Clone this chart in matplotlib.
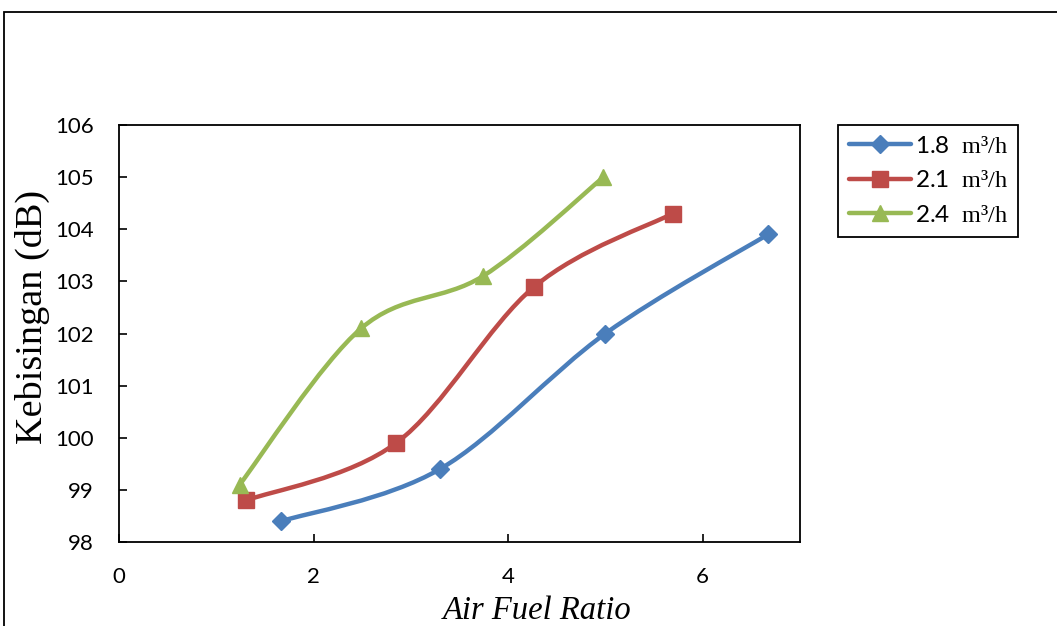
import numpy as np
import matplotlib.pyplot as plt
from matplotlib.path import Path
from matplotlib.patches import PathPatch, Rectangle
from matplotlib.lines import Line2D

plt.rcParams['mathtext.fontset'] = 'custom'
plt.rcParams['mathtext.rm'] = 'Liberation Serif'

# data
afr_18 = [1.67, 3.30, 5.00, 6.67]
noise_18 = [98.4, 99.4, 102.0, 103.9]
afr_21 = [1.31, 2.85, 4.27, 5.69]
noise_21 = [98.8, 99.9, 102.9, 104.3]
afr_24 = [1.24, 2.49, 3.74, 4.98]
noise_24 = [99.1, 102.1, 103.1, 105.0]
labels = [r"1.8  $\mathrm{m³/h}$", r"2.1  $\mathrm{m³/h}$", r"2.4  $\mathrm{m³/h}$"]
colors = ['#4a7ebb', '#be4b48', '#98b954']
markers = ['D', 's', '^']
msizes = [9, 11, 12]


def smooth_path(x, y):
    # excel style smoothed line: catmull-rom converted to cubic bezier
    p = np.column_stack([x, y]).astype(float)
    ext = np.vstack([p[0], p, p[-1]])
    verts = [p[0]]
    codes = [Path.MOVETO]
    for i in range(len(p) - 1):
        p0, p1, p2, p3 = ext[i], ext[i + 1], ext[i + 2], ext[i + 3]
        c1 = p1 + (p2 - p0) / 6.0
        c2 = p2 - (p3 - p1) / 6.0
        verts += [c1, c2, p2]
        codes += [Path.CURVE4] * 3
    return Path(verts, codes)


fig = plt.figure(figsize=(10.57, 6.26), dpi=100)
ax = fig.add_axes([119/1057, 84/626, 681/1057, 417/626])

# outer chart border
fig.patches.append(Rectangle((4/1057, -0.1), 1.2, 1 - 12/626 + 0.1,
                             transform=fig.transFigure, fill=False,
                             edgecolor='black', linewidth=1.3))

series = [(afr_18, noise_18), (afr_21, noise_21), (afr_24, noise_24)]
handles = []
for (x, y), c, m, ms, lab in zip(series, colors, markers, msizes, labels):
    ax.add_patch(PathPatch(smooth_path(x, y), fill=False, edgecolor=c,
                           linewidth=3.2, capstyle='round', zorder=2))
    ax.plot(x, y, linestyle='none', marker=m, markersize=ms, color=c, zorder=3)
    handles.append(Line2D([], [], color=c, linewidth=3.2, marker=m,
                          markersize=ms, solid_capstyle='round', label=lab))

ax.set_xlim(0, 7)
ax.set_ylim(98, 106)
ax.set_xticks([0, 2, 4, 6])
ax.set_yticks(range(98, 107))
ax.tick_params(direction='in', length=6, width=1.2, labelsize=16, pad=18)
for lab in ax.get_xticklabels() + ax.get_yticklabels():
    lab.set_family('Lato')
for s in ax.spines.values():
    s.set_linewidth(1.3)

ax.set_xlabel('Air Fuel Ratio', family='Liberation Serif', style='italic', fontsize=23.5)
ax.xaxis.set_label_coords(0.614, -0.128)
ax.set_ylabel('Kebisingan (dB)', family='Liberation Serif', fontsize=27.5)
ax.yaxis.set_label_coords(-0.102, 0.54)

leg = fig.legend(handles=handles, loc='upper left',
                 bbox_to_anchor=(838/1057, 1 - 125/626), bbox_transform=fig.transFigure,
                 borderaxespad=0, fancybox=False, edgecolor='black', framealpha=1,
                 handlelength=2.55, handletextpad=0.15, labelspacing=0.55,
                 borderpad=0.45, prop={'family': 'Lato', 'size': 17.5})
leg.get_frame().set_linewidth(1.3)

fig.savefig('out.png', dpi=100)
